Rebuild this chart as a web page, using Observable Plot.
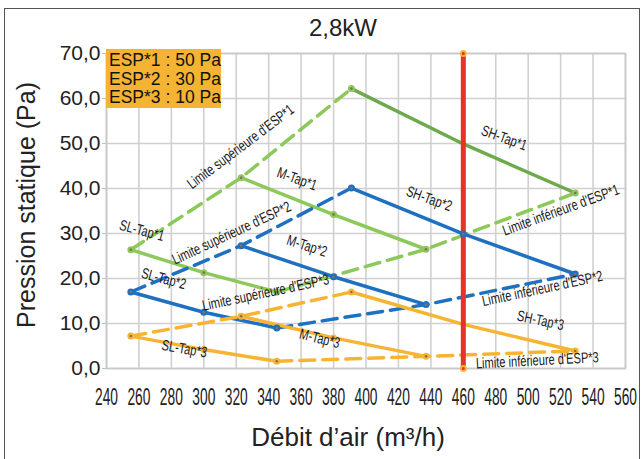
<!DOCTYPE html>
<html><head><meta charset="utf-8">
<script src="https://cdn.jsdelivr.net/npm/d3@7"></script>
<script src="https://cdn.jsdelivr.net/npm/@observablehq/plot@0.6"></script>
<style>
body{margin:0;background:#fff;font-family:"Liberation Sans",Arial,sans-serif;}
#wrap{position:relative;width:644px;height:459px;overflow:hidden;background:#fff;}
#chart{position:absolute;left:0;top:0;}
#frame{position:absolute;left:4px;top:8px;width:636px;height:470px;border:1.5px solid #555;box-sizing:border-box;pointer-events:none;}
#title{position:absolute;left:0;width:686px;top:14px;text-align:center;font-size:24px;color:#222;}
#legend{position:absolute;left:106px;top:49px;width:115px;height:59px;background:#f5b334;font-size:17.5px;line-height:18.5px;padding:2px 0 0 3px;box-sizing:border-box;color:#111;}
#xlabel{position:absolute;left:0;width:696px;top:422px;text-align:center;font-size:26px;color:#222;}
#ylabel{position:absolute;left:26px;top:205px;transform:translate(-50%,-50%) rotate(-90deg);font-size:25px;color:#222;white-space:nowrap;}
</style></head>
<body>
<div id="wrap">
  <div id="chart"></div>
  <div id="title">2,8kW</div>
  <div id="legend"></div>
  <div id="xlabel">Débit d’air (m³/h)</div>
  <div id="ylabel">Pression statique (Pa)</div>
  <div id="frame"></div>
</div>
<script>
// ---- data ----
const xTicks = [240,260,280,300,320,340,360,380,400,420,440,460,480,500,520,540,560];
const yTicks = [0,10,20,30,40,50,60,70];
const xSL = [255, 300, 345];
const xM  = [323, 380, 437];
const xSH = [391, 460, 529];
const sl1 = [26.4, 21.3, 17.0], m1 = [42.4, 34.2, 26.5], sh1 = [62.2, 49.9, 39.0];
const sl2 = [17.0, 12.5, 9.0],  m2 = [27.3, 20.4, 14.2], sh2 = [40.1, 29.9, 21.0];
const sl3 = [7.2, 4.2, 1.6],    m3 = [11.6, 6.8, 2.7],   sh3 = [17.0, 9.8, 3.9];
const refX = 460, refY = [0, 70];
const legendLines = ["ESP*1 : 50 Pa", "ESP*2 : 30 Pa", "ESP*3 : 10 Pa"];
const labelText = ["Limite supérieure d'ESP*1","M-Tap*1","SL-Tap*1","Limite supérieure d'ESP*2","M-Tap*2","SL-Tap*2",
  "Limite supérieure d'ESP*3","M-Tap*3","SL-Tap*3","SH-Tap*1","SH-Tap*2","Limite inférieure d'ESP*1",
  "Limite inférieure d'ESP*2","SH-Tap*3","Limite inférieure d'ESP*3"];
const labelX = [324.5,356.5,261,318.3,362.7,274.5,338.7,370.7,287.5,484.2,437.9,521.2,509.4,507,505.8];
const labelY = [48.4,41.1,29.6,29.1,26.2,18.9,15.8,5.6,3.3,50.2,36.7,34.2,16.7,9.6,0.7];
const labelAngle = [-37,20,15,-25,18,15,-12,14,10,20,20,-20,-12,12,-3];

// ---- build ----
document.getElementById("legend").innerHTML = legendLines.map(s => `<div>${s}</div>`).join("");
const green = "#8cc85a", greenDark = "#6ea94c", blue = "#1f70c1", orange = "#f7b433", red = "#e8312b";
const groups = [
  {sl: sl1, m: m1, sh: sh1, c: green, cSH: greenDark},
  {sl: sl2, m: m2, sh: sh2, c: blue, cSH: blue},
  {sl: sl3, m: m3, sh: sh3, c: orange, cSH: orange}
];
const pts = (xs, ys) => xs.map((x, i) => ({x, y: ys[i]}));
const lineMarks = [], dotRows = [];
groups.forEach(g => {
  const upper = pts([xSL[0], xM[0], xSH[0]], [g.sl[0], g.m[0], g.sh[0]]);
  const lower = pts([xSL[2], xM[2], xSH[2]], [g.sl[2], g.m[2], g.sh[2]]);
  lineMarks.push(Plot.line(upper, {x: "x", y: "y", stroke: g.c, strokeWidth: 3.5, strokeDasharray: "15,8"}));
  lineMarks.push(Plot.line(lower, {x: "x", y: "y", stroke: g.c, strokeWidth: 3.5, strokeDasharray: "15,8"}));
  lineMarks.push(Plot.line(pts(xSL, g.sl), {x: "x", y: "y", stroke: g.c, strokeWidth: 3.5}));
  lineMarks.push(Plot.line(pts(xM, g.m), {x: "x", y: "y", stroke: g.c, strokeWidth: 3.5}));
  lineMarks.push(Plot.line(pts(xSH, g.sh), {x: "x", y: "y", stroke: g.cSH, strokeWidth: 3.5}));
  pts(xSL, g.sl).concat(pts(xM, g.m), pts(xSH, g.sh)).forEach(p => {
    if (p.x !== refX || g.c === blue) dotRows.push({...p, c: g.c});
  });
});
const labels = labelText.map((t, i) => ({t, x: labelX[i], y: labelY[i], r: labelAngle[i]}));
const refRows = refY.map(y => ({x: refX, y}));

const chart = Plot.plot({
  width: 644, height: 459,
  marginLeft: 106, marginRight: 19, marginTop: 53, marginBottom: 91,
  x: {domain: [240, 560]},
  y: {domain: [0, 70]},
  style: {fontFamily: '"Liberation Sans", Arial, sans-serif', background: "transparent", color: "#222"},
  marks: [
    Plot.gridX(xTicks, {stroke: "#d0d0d0", strokeOpacity: 1, strokeWidth: 1.6}),
    Plot.gridY(yTicks, {stroke: "#d0d0d0", strokeOpacity: 1, strokeWidth: 1.6}),
    Plot.frame({stroke: "#c8c8c8", strokeWidth: 1.6}),
    Plot.axisY(yTicks, {tickFormat: d => d.toFixed(1).replace(".", ","), fontSize: 21, tickSize: 4, tickPadding: 2, stroke: "#c0c0c0", label: null}),
    Plot.axisX(xTicks, {fontSize: 23, tickSize: 0, tickPadding: 36, label: null}),
    ...lineMarks,
    Plot.line(refRows, {x: "x", y: "y", stroke: red, strokeWidth: 5}),
    Plot.dot(refRows, {x: "x", y: "y", r: 3.5, fill: orange}),
    Plot.dot(refRows, {x: "x", y: "y", r: 1.5, fill: red}),
    Plot.dot(dotRows, {x: "x", y: "y", r: 3.5, fill: d => d.c}),
    Plot.dot(dotRows, {x: "x", y: "y", r: 1.3, fill: "#8a6d5c"}),
    Plot.text(labels, {x: "x", y: "y", text: "t", rotate: "r", fontSize: 15, fill: "#1a1a1a"})
  ]
});
document.getElementById("chart").appendChild(chart);
// condensed text (narrow face look)
function squeeze(nodes, k) {
  nodes.forEach(node => {
    const x = +node.getAttribute("x") || 0, y = +node.getAttribute("y") || 0;
    const t = node.getAttribute("transform") || "";
    node.removeAttribute("x"); node.removeAttribute("y");
    node.setAttribute("transform", `${t} translate(${x},${y}) scale(${k},1)`);
  });
}
const allText = Array.from(chart.querySelectorAll("text"));
const xTickStr = xTicks.map(String);
squeeze(allText.filter(n => xTickStr.includes(n.textContent.trim())), 0.6);
squeeze(allText.filter(n => labelText.includes(n.textContent.trim())), 0.74);
</script>
</body></html>
